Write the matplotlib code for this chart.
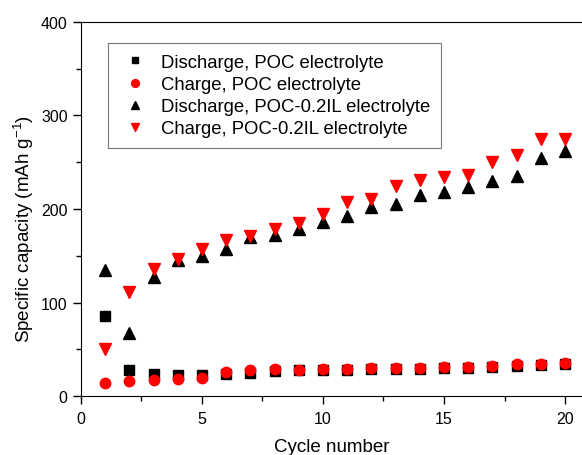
import numpy as np
import matplotlib
matplotlib.use('Agg')
import matplotlib.pyplot as plt

plt.rcParams['font.family'] = ['Liberation Sans', 'DejaVu Sans']
plt.rcParams['mathtext.default'] = 'regular'

# Cycle data
cycles = np.arange(1, 21)
dis_poc = [86, 27.5, 24, 22.5, 23, 24, 25, 27, 27.5, 28,
           28, 29, 29, 29.5, 30, 30, 31, 32, 33, 34]
chg_poc = [13.6, 16, 17, 18, 19.3, 25.7, 27.5, 28.6, 28, 29,
           29.3, 30, 30, 30.3, 30.7, 31.4, 32, 34, 34.3, 35]
dis_il = [135, 67, 127, 145, 150, 157, 170, 172, 179, 186,
          192.5, 202.5, 205, 215, 218.5, 223, 230, 235.5, 254, 262]
chg_il = [50, 111, 136, 146.5, 157, 167, 171.5, 179, 185.5, 195,
          207.5, 211, 225, 231, 234.5, 236.5, 250, 258, 275, 275]

fig = plt.figure(figsize=(5.82, 4.56), dpi=100)
ax = fig.add_axes([0.139, 0.129, 0.861, 0.821])

ax.plot(cycles, dis_poc, 's', color='black', ms=6.5, label='Discharge, POC electrolyte')
ax.plot(cycles, chg_poc, 'o', color='red', ms=7.5, label='Charge, POC electrolyte')
ax.plot(cycles, dis_il, '^', color='black', ms=8.5, label='Discharge, POC-0.2IL electrolyte')
ax.plot(cycles, chg_il, 'v', color='red', ms=8.5, label='Charge, POC-0.2IL electrolyte')

ax.set_xlim(0, 20.7)
ax.set_ylim(0, 400)
ax.spines['right'].set_visible(False)
ax.set_xticks([0, 5, 10, 15, 20])
ax.set_xticks(np.arange(0, 21, 2.5), minor=True)
ax.set_yticks([0, 100, 200, 300, 400])
ax.set_yticks(np.arange(0, 401, 50), minor=True)
ax.tick_params(which='major', direction='out', length=6, width=1, labelsize=11.5)
ax.tick_params(which='minor', direction='out', length=3.5, width=1)
ax.tick_params(axis='x', pad=5)

ax.set_xlabel('Cycle number', fontsize=13.5, labelpad=8)
ax.set_ylabel('Specific capacity (mAh g$^{-1}$)', fontsize=13.5)
ax.yaxis.set_label_coords(-0.09, 0.45)

leg = ax.legend(loc='upper left', bbox_to_anchor=(0.054, 0.944), borderaxespad=0,
                fontsize=13.3, frameon=True, fancybox=False, edgecolor='#555555',
                handlelength=1.72, handletextpad=0.55, markerscale=0.75,
                borderpad=0.6, labelspacing=0.28)
leg.get_frame().set_linewidth(0.8)

fig.savefig('out.png', dpi=100)
